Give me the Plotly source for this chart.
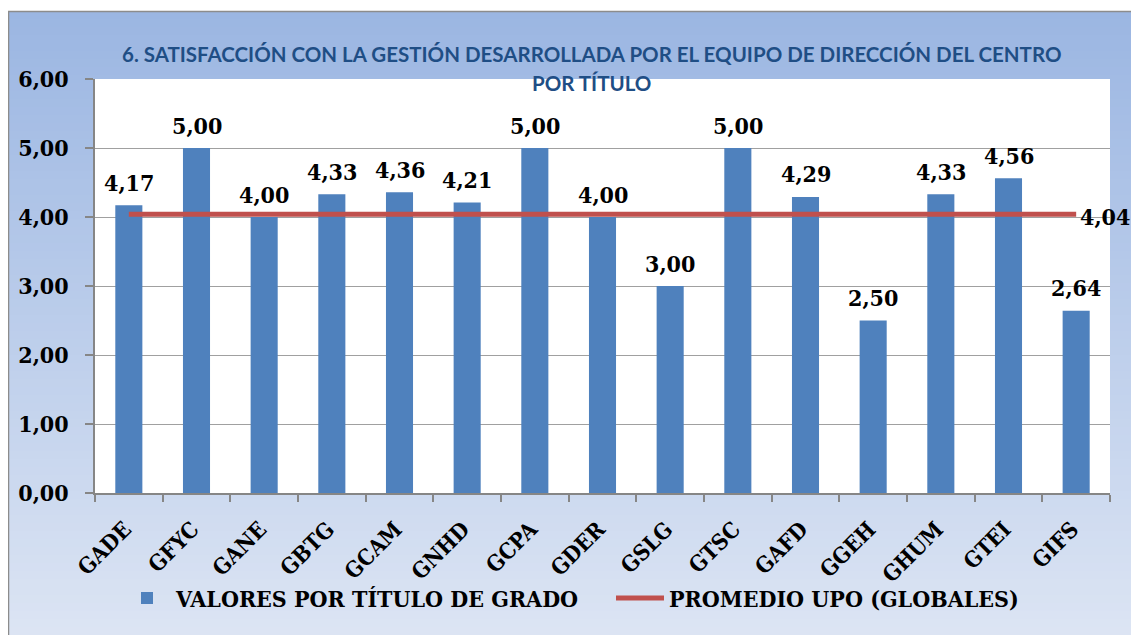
import plotly.graph_objects as go

categorias = ["GADE", "GFYC", "GANE", "GBTG", "GCAM", "GNHD", "GCPA", "GDER",
              "GSLG", "GTSC", "GAFD", "GGEH", "GHUM", "GTEI", "GIFS"]
valores = [4.17, 5.00, 4.00, 4.33, 4.36, 4.21, 5.00, 4.00,
           3.00, 5.00, 4.29, 2.50, 4.33, 4.56, 2.64]
promedio = [4.04] * len(categorias)

titulo_1 = "6. SATISFACCIÓN CON LA GESTIÓN DESARROLLADA POR EL EQUIPO DE DIRECCIÓN DEL CENTRO"
titulo_2 = "POR TÍTULO"
nombre_barras = "VALORES POR TÍTULO DE GRADO"
nombre_linea = "PROMEDIO UPO (GLOBALES)"

OFF = 8  # page body margin
W, H = 1139, 635
L, R, T, B = 95 - OFF, 1110 - OFF, 79 - OFF, 493 - OFF
serif = dict(family="DejaVu Serif Condensed, DejaVu Serif", weight="bold", color="black")


def fmt(v):
    return f"{v:.2f}".replace(".", ",")


def px_to_paper(px, py):
    px -= OFF
    py -= OFF
    return (px - L) / (R - L), (B - py) / (B - T)


fig = go.Figure()
fig.add_trace(go.Bar(
    x=categorias, y=valores, name=nombre_barras,
    marker=dict(color="#4F81BD", line=dict(width=0)),
))
fig.add_trace(go.Scatter(
    x=categorias, y=promedio, name=nombre_linea, mode="lines",
    line=dict(color="#C0504D", width=5),
))

annotations = []
for c, v in zip(categorias, valores):
    annotations.append(dict(x=c, y=v, xref="x", yref="y", text=fmt(v),
                            showarrow=False, yanchor="middle", yshift=23,
                            font=dict(size=23, **serif)))
annotations.append(dict(x=categorias[-1], y=promedio[-1], xref="x", yref="y",
                        text=fmt(promedio[-1]), showarrow=False, xanchor="left",
                        yanchor="middle", xshift=2, yshift=-2,
                        font=dict(size=23, **serif)))

# gradient background (vertical), drawn as thin strips
shapes = []
top_c = (155, 182, 226)
bot_c = (222, 230, 244)
y0p, y1p = 11, 650
step = 8
py = y0p
while py < y1p:
    t = (py - y0p) / (y1p - y0p)
    c = tuple(int(round(top_c[i] + (bot_c[i] - top_c[i]) * t)) for i in range(3))
    xa, ya = px_to_paper(8, py)
    xb, yb = px_to_paper(1160, min(py + step + 1, y1p))
    shapes.append(dict(type="rect", xref="paper", yref="paper", x0=xa, x1=xb, y0=yb, y1=ya,
                       fillcolor="rgb(%d,%d,%d)" % c, line=dict(width=0), layer="below"))
    py += step
# plot area white
shapes.append(dict(type="rect", xref="paper", yref="paper", x0=0, x1=1, y0=0, y1=1,
                   fillcolor="white", line=dict(width=0), layer="below"))
# outer border
xa, ya = px_to_paper(8.5, 11.5)
xb, yb = px_to_paper(1160, 660)
shapes.append(dict(type="rect", xref="paper", yref="paper", x0=xa, x1=xb, y0=yb, y1=ya,
                   fillcolor="rgba(0,0,0,0)", line=dict(color="#8C8C8C", width=1.5), layer="below"))

tx, ty1 = px_to_paper(591, 54)
_, ty2 = px_to_paper(591, 83)
title_font = dict(family="Lato", weight="bold", size=20.5, color="#1F4E85")
annotations += [
    dict(text=titulo_1, x=tx, y=ty1, xref="paper", yref="paper", showarrow=False,
         xanchor="center", yanchor="middle", font=title_font),
    dict(text=titulo_2, x=tx, y=ty2, xref="paper", yref="paper", showarrow=False,
         xanchor="center", yanchor="middle", font=title_font),
]

fig.update_layout(
    width=W, height=H,
    margin=dict(l=L, r=W - R, t=T, b=H - B, pad=0),
    paper_bgcolor="white", plot_bgcolor="white",
    separators=", ",
    bargap=0.6,
    shapes=shapes, annotations=annotations,
    showlegend=True,
    legend=dict(orientation="h", xref="container", yref="container",
                x=(611 - OFF) / W, y=1 - (598 - OFF) / H, xanchor="center", yanchor="middle",
                font=dict(size=23, **serif), bgcolor="rgba(0,0,0,0)",
                itemwidth=48, entrywidthmode="pixels", entrywidth=430),
    xaxis=dict(type="category", range=[-0.5, len(categorias) - 0.5],
               tickson="boundaries", ticks="outside", ticklen=7,
               tickcolor="#868686", tickwidth=1.5, showline=True, linecolor="#868686",
               linewidth=1.5, showgrid=False, tickangle=-45, automargin=False,
               ticklabelshift=-4, ticklabelstandoff=13,
               tickfont=dict(size=22, **serif)),
    yaxis=dict(range=[0, 6], dtick=1, tickformat=".2f", ticks="outside", ticklen=8,
               tickcolor="#868686", tickwidth=1.5, showline=True, linecolor="#868686",
               linewidth=1.5, showgrid=True, gridcolor="#A0A0A0", gridwidth=1.2,
               zeroline=False, automargin=False, ticklabelstandoff=12,
               tickfont=dict(size=23, **serif)),
)

fig.write_html("out.html")
